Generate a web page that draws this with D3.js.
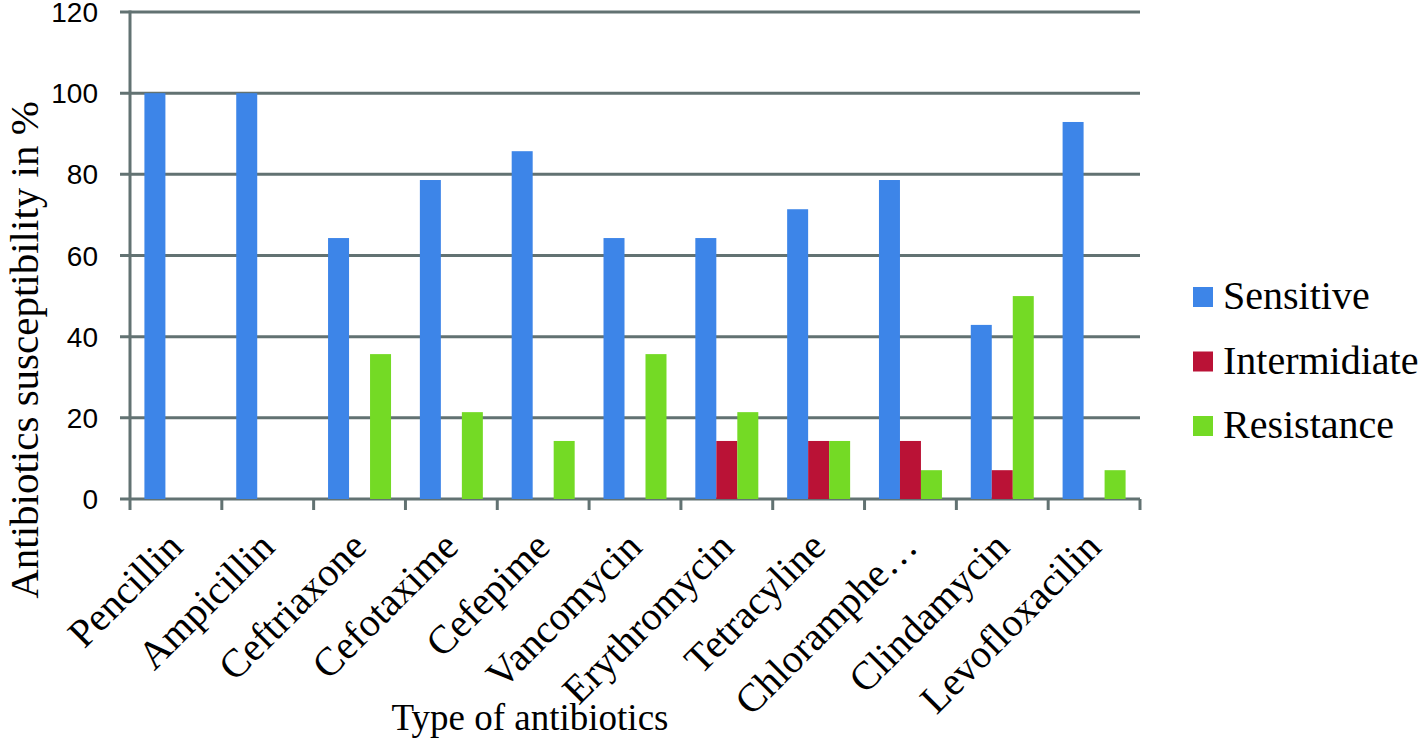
<!DOCTYPE html>
<html>
<head>
<meta charset="utf-8">
<script src="https://cdn.jsdelivr.net/npm/d3@7"></script>
<style>
  html, body { margin: 0; padding: 0; background: #ffffff; }
  svg { display: block; }
</style>
</head>
<body>
<svg id="chart" width="1418" height="739"></svg>
<script>
// ---- data ----
const categories = ["Pencillin", "Ampicillin", "Ceftriaxone", "Cefotaxime", "Cefepime", "Vancomycin",
                    "Erythromycin", "Tetracyline", "Chloramphe\u2026", "Clindamycin", "Levofloxacilin"];
const seriesNames = ["Sensitive", "Intermidiate", "Resistance"];
const sensitive    = [100, 100, 64.3, 78.6, 85.7, 64.3, 64.3, 71.4, 78.6, 42.9, 92.9];
const intermediate = [0, 0, 0, 0, 0, 0, 14.3, 14.3, 14.3, 7.1, 0];
const resistance   = [0, 0, 35.7, 21.4, 14.3, 35.7, 21.4, 14.3, 7.1, 50, 7.1];
const yTicks = [0, 20, 40, 60, 80, 100, 120];
const colors = ["#3D85E8", "#BA1236", "#74DA25"];
const seriesValues = [sensitive, intermediate, resistance];

// ---- layout ----
const svg = d3.select("#chart");
const plotLeft = 130, plotRight = 1140, plotTop = 12, plotBottom = 499;
const axisColor = "#627272";

const y = d3.scaleLinear().domain([0, 120]).range([plotBottom, plotTop]);
const xOuter = d3.scaleBand().domain(categories).range([plotLeft, plotRight]).padding(0);
const x0 = d3.scaleBand().domain(categories).range([plotLeft, plotRight]).paddingInner(0.314).paddingOuter(0.157);
const x1 = d3.scaleBand().domain(seriesNames).range([0, x0.bandwidth()]).padding(0);

// gridlines + y tick labels
const gy = svg.append("g").attr("transform", `translate(${plotLeft - 10},0)`);
gy.selectAll("line.grid").data(yTicks).enter().append("line")
  .attr("x1", 0).attr("x2", plotRight - plotLeft + 10)
  .attr("y1", d => y(d)).attr("y2", d => y(d))
  .attr("stroke", axisColor).attr("stroke-width", 3);
gy.selectAll("text.ytick").data(yTicks).enter().append("text")
  .attr("x", -22).attr("y", d => y(d))
  .attr("dy", "0.36em")
  .attr("text-anchor", "end")
  .attr("font-family", "'Liberation Sans', Arial, sans-serif")
  .attr("font-size", 28)
  .attr("fill", "#000")
  .text(d => d3.format("d")(d));

// vertical axis line
svg.append("line")
  .attr("x1", plotLeft).attr("x2", plotLeft)
  .attr("y1", y(120) - 1.5).attr("y2", plotBottom + 11)
  .attr("stroke", axisColor).attr("stroke-width", 3);

// bottom ticks at category boundaries
const boundaries = categories.map(c => xOuter(c)).concat([plotRight]);
svg.selectAll("line.xtick").data(boundaries.slice(1)).enter().append("line")
  .attr("x1", d => d).attr("x2", d => d)
  .attr("y1", plotBottom).attr("y2", plotBottom + 11)
  .attr("stroke", axisColor).attr("stroke-width", 3);

// bars
const groups = svg.append("g").selectAll("g").data(categories).enter().append("g")
  .attr("transform", d => `translate(${x0(d)},0)`);
groups.selectAll("rect").data((d, i) => seriesNames.map((s, k) => ({ s, v: seriesValues[k][i], k })))
  .enter().append("rect")
  .attr("x", d => x1(d.s))
  .attr("width", x1.bandwidth())
  .attr("y", d => y(d.v))
  .attr("height", d => y(0) - y(d.v))
  .attr("fill", d => colors[d.k]);

// x labels rotated
svg.selectAll("text.xlabel").data(categories).enter().append("text")
  .attr("transform", d => `translate(${xOuter(d) + xOuter.bandwidth() / 2 + 9},549) rotate(-45)`)
  .attr("text-anchor", "end")
  .attr("font-family", "'Liberation Serif', 'Times New Roman', serif")
  .attr("font-size", 40)
  .attr("fill", "#000")
  .text(d => d);

// axis titles
svg.append("text")
  .attr("transform", "translate(38,350) rotate(-90)")
  .attr("text-anchor", "middle")
  .attr("font-family", "'Liberation Serif', 'Times New Roman', serif")
  .attr("font-size", 41)
  .attr("fill", "#000")
  .text("Antibiotics susceptibility in %");

svg.append("text")
  .attr("x", 530).attr("y", 730)
  .attr("text-anchor", "middle")
  .attr("font-family", "'Liberation Serif', 'Times New Roman', serif")
  .attr("font-size", 37)
  .attr("fill", "#000")
  .text("Type of antibiotics");

// legend
const legend = svg.append("g").selectAll("g").data(seriesNames).enter().append("g")
  .attr("transform", (d, i) => `translate(1193,${287 + i * 64.5})`);
legend.append("rect").attr("width", 20).attr("height", 20).attr("fill", (d, i) => colors[i]);
legend.append("text")
  .attr("x", 30).attr("y", 22)
  .attr("font-family", "'Liberation Serif', 'Times New Roman', serif")
  .attr("font-size", 40)
  .attr("fill", "#000")
  .text(d => d);
</script>
</body>
</html>
